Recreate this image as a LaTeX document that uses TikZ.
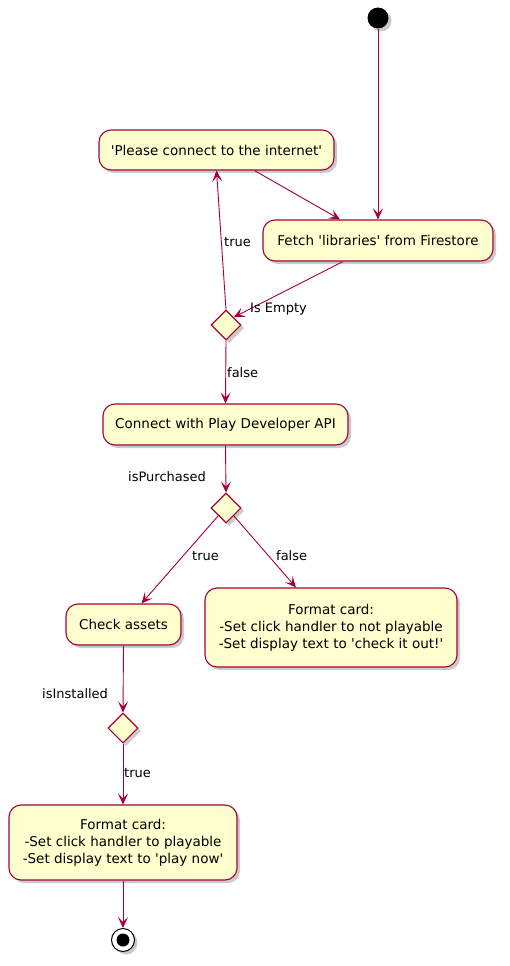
\documentclass[tikz,border=0pt]{standalone}
\usepackage{fontspec}
\setmainfont{DejaVu Sans}[Ligatures=TeXOff]
\usetikzlibrary{shapes.geometric,arrows.meta,shadows,calc}
\definecolor{umlred}{HTML}{A80036}
\definecolor{umlfill}{HTML}{FEFECE}
\tikzset{
  shad/.style={drop shadow={shadow xshift=3pt,shadow yshift=-3pt,opacity=0.35,fill=black!60}},
  actbox/.style={draw=umlred,fill=umlfill,line width=1.1pt,rounded corners=12pt,shad,
    inner sep=0pt,align=center,font=\fontsize{13.5}{17}\selectfont},
  decis/.style={diamond,draw=umlred,fill=umlfill,line width=1.1pt,shad,
    minimum width=30pt,minimum height=30pt,inner sep=0pt},
  flow/.style={draw=umlred,line width=0.9pt,-{Stealth[length=11pt,width=10pt,inset=5pt]}},
  lbl/.style={font=\fontsize{13}{15}\selectfont,inner sep=0pt,anchor=base west}
}
\begin{document}
\begin{tikzpicture}[x=1pt,y=-1pt]
\useasboundingbox (0,0) rectangle (509,966);
\node[circle,fill=black,minimum size=21pt,inner sep=0pt,shad] (start) at (378,18) {};
\node[actbox,minimum width=235pt,minimum height=40pt] (please) at (216.5,150) {'Please connect to the internet'};
\node[actbox,minimum width=230pt,minimum height=41pt] (fetch) at (378,240.5) {Fetch 'libraries' from Firestore};
\node[decis] (d1) at (226,325) {};
\node[actbox,minimum width=245pt,minimum height=41pt] (connect) at (225.5,424.5) {Connect with Play Developer API};
\node[decis] (d2) at (226,508) {};
\node[actbox,minimum width=115pt,minimum height=41pt] (check) at (123.5,624.5) {Check assets};
\node[actbox,minimum width=252pt,minimum height=79pt] (ff) at (331,627.5) {Format card:\\-Set click handler to not playable\\-Set display text to 'check it out!'};
\node[decis] (d3) at (123,728) {};
\node[actbox,minimum width=228pt,minimum height=75pt] (ft) at (123,842.5) {Format card:\\-Set click handler to playable\\-Set display text to 'play now'};
\node[circle,draw=black,line width=1pt,fill=white,minimum size=23pt,inner sep=0pt,shad] (end) at (123,940) {};
\node[circle,fill=black,minimum size=13pt,inner sep=0pt] (endin) at (end.center) {};

\draw[flow] (start) -- (fetch.north);
\draw[flow] ($(please.south)+(38,0)$) -- ($(fetch.north)+(-38,0)$);
\draw[flow] ($(fetch.south)+(-35,0)$) -- (d1.north east);
\draw[flow] (d1.north) -- (please.south);
\draw[flow] (d1.south) -- (connect.north);
\draw[flow] (connect.south) -- (d2.north);
\draw[flow] (d2.south west) -- ($(check.north)+(18,0)$);
\draw[flow] (d2.south east) -- ($(ff.north)+(-35,0)$);
\draw[flow] (check.south) -- (d3.north);
\draw[flow] (d3.south) -- (ft.north);
\draw[flow] (ft.south) -- (end.north);

\node[lbl] (l1) at (250,312) {Is Empty};
\node[lbl] (l2) at (224,246) {true};
\node[lbl] (l3) at (227,377) {false};
\node[lbl] (l4) at (128,481) {isPurchased};
\node[lbl] (l5) at (192,560) {true};
\node[lbl] (l6) at (276,560) {false};
\node[lbl] (l7) at (42,698) {isInstalled};
\node[lbl] (l8) at (124,777) {true};
\end{tikzpicture}
\end{document}
